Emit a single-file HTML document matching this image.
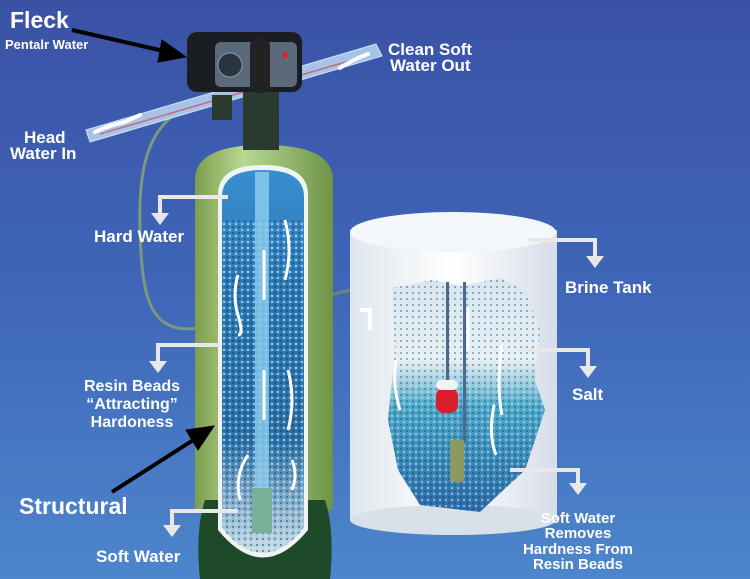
<!DOCTYPE html>
<html><head><style>
body{margin:0;width:750px;height:579px;overflow:hidden;font-family:"Liberation Sans",sans-serif}
</style></head><body>
<svg width="750" height="579" viewBox="0 0 750 579" xmlns="http://www.w3.org/2000/svg" style="display:block">
<defs>
<linearGradient id="bg" x1="0" y1="0" x2="0" y2="1"><stop offset="0" stop-color="#3a52a6"/><stop offset="0.5" stop-color="#3f66b8"/><stop offset="1" stop-color="#4d86cc"/></linearGradient>
<linearGradient id="tank" x1="0" x2="1"><stop offset="0" stop-color="#7c9e4e"/><stop offset="0.35" stop-color="#b8d890"/><stop offset="1" stop-color="#6f9446"/></linearGradient>
<linearGradient id="inner" x1="0" y1="0" x2="0" y2="1"><stop offset="0" stop-color="#3a8ed0"/><stop offset="0.3" stop-color="#2a78b4"/><stop offset="0.7" stop-color="#2a6fa6"/><stop offset="1" stop-color="#c8dde6"/></linearGradient>
<linearGradient id="brine" x1="0" x2="1"><stop offset="0" stop-color="#dfe6ee"/><stop offset="0.5" stop-color="#ffffff"/><stop offset="1" stop-color="#d6dde8"/></linearGradient>
<linearGradient id="cut" x1="0" y1="0" x2="0" y2="1"><stop offset="0" stop-color="#d8e6f0"/><stop offset="0.35" stop-color="#e8f0f4"/><stop offset="0.55" stop-color="#4aa8c8"/><stop offset="1" stop-color="#2a6aa8"/></linearGradient>
<pattern id="dots" width="6" height="6" patternUnits="userSpaceOnUse"><circle cx="2" cy="2" r="1.2" fill="#d8ecf6" opacity="0.7"/><circle cx="5" cy="5" r="1" fill="#0c3a66" opacity="0.6"/></pattern>
</defs>
<rect width="750" height="579" fill="url(#bg)"/>
<!-- hose -->
<path d="M212 100 C150 110 138 160 140 230 C142 300 150 335 200 328" fill="none" stroke="#7a9a80" stroke-width="3"/>
<path d="M330 295 L378 283 L378 300" fill="none" stroke="#6a8a70" stroke-width="3"/>
<!-- pipe -->
<path d="M86 130 L376 44 L382 56 L90 142 Z" fill="#a6c4e8" stroke="#d0e0f4" stroke-width="1"/>
<path d="M100 134 L366 56" stroke="#c07080" stroke-width="1.5"/>
<!-- brine tank -->
<rect x="350" y="230" width="207" height="290" fill="url(#brine)"/>
<ellipse cx="453" cy="520" rx="103" ry="15" fill="#d8e0ea"/>
<ellipse cx="453" cy="232" rx="103" ry="20" fill="#f4f7fa"/>
<path d="M392 288 L432 280 L462 286 L500 278 L525 290 L540 330 L535 380 L545 410 L525 470 L480 512 L420 505 L398 470 L388 420 L395 350 Z" fill="url(#cut)"/>
<path d="M392 288 L432 280 L462 286 L500 278 L525 290 L540 330 L535 380 L545 410 L525 470 L480 512 L420 505 L398 470 L388 420 L395 350 Z" fill="url(#dots)" opacity="0.8"/>
<rect x="446" y="282" width="3" height="100" fill="#4a6a8a"/><rect x="463" y="282" width="3" height="160" fill="#4a6a8a"/>
<rect x="436" y="388" width="22" height="25" rx="8" fill="#d81f2a"/><rect x="436" y="380" width="22" height="10" rx="5" fill="#f4f4f4"/>
<rect x="450" y="440" width="14" height="42" fill="#8a9a60"/>
<path d="M360 310 L370 310 L370 330" fill="none" stroke="#fff" stroke-width="4"/>
<!-- main tank -->
<path d="M195 180 Q195 145 264 145 Q333 145 333 180 L333 510 L195 510 Z" fill="url(#tank)"/>
<path d="M205 500 L325 500 Q335 530 330 579 L200 579 Q195 530 205 500 Z" fill="#1e4a2a"/>
<path d="M218 195 Q218 165 263 165 Q308 165 308 195 L308 530 Q263 585 218 530 Z" fill="#eef4f4"/>
<path d="M222 197 Q222 170 263 170 Q304 170 304 197 L304 528 Q263 578 222 528 Z" fill="url(#inner)"/>
<path d="M222 220 L304 220 L304 528 Q263 578 222 528 Z" fill="url(#dots)"/>
<rect x="255" y="172" width="14" height="320" fill="#8ed0f0" opacity="0.8"/>
<rect x="252" y="488" width="20" height="45" fill="#7ab09a"/>
<!-- head -->
<rect x="243" y="85" width="36" height="65" fill="#2a3a2e"/>
<rect x="212" y="95" width="20" height="25" fill="#2a3a2e"/>
<rect x="187" y="32" width="115" height="60" rx="10" fill="#1a1e22"/>
<rect x="215" y="42" width="82" height="45" rx="6" fill="#5a6a7a"/>
<circle cx="230" cy="65" r="12" fill="#2a3440" stroke="#8a9aaa"/>
<rect x="250" y="38" width="20" height="55" rx="8" fill="#222"/>
<circle cx="285" cy="55" r="3" fill="#e02020"/>
<!-- white flow arrows -->
<g fill="none" stroke="#fff" stroke-width="4" stroke-linecap="round">
<path d="M95 132 Q110 125 125 122 L140 115"/><path d="M340 68 Q352 60 368 54"/>
</g>
<g fill="none" stroke="#fff" stroke-width="3">
<path d="M238 275 q-6 20 0 40 t0 20"/><path d="M285 220 q8 30 0 60"/><path d="M264 300 v-50"/><path d="M264 420 v-50"/><path d="M288 370 q8 30 0 60"/><path d="M240 500 q-6 -25 8 -45"/><path d="M292 490 q6 -15 0 -30"/><path d="M396 360 q-4 25 4 50"/><path d="M502 345 q-6 40 0 70"/><path d="M494 405 q-6 30 2 50"/><path d="M468 350 v-42"/>
</g>
<!-- callout brackets -->
<g fill="none" stroke="#e8e8e8" stroke-width="4">
<path d="M228 197 L160 197 L160 215"/>
<path d="M220 345 L158 345 L158 363"/>
<path d="M238 511 L172 511 L172 527"/>
<path d="M528 240 L595 240 L595 258"/>
<path d="M523 350 L588 350 L588 368"/>
<path d="M510 470 L578 470 L578 485"/>
</g>
<g fill="#e8e8e8">
<path d="M151 213 L169 213 L160 225 Z"/><path d="M149 361 L167 361 L158 373 Z"/><path d="M163 525 L181 525 L172 537 Z"/>
<path d="M586 256 L604 256 L595 268 Z"/><path d="M579 366 L597 366 L588 378 Z"/><path d="M569 483 L587 483 L578 495 Z"/>
</g>
<!-- black arrows -->
<g stroke="#000" stroke-width="4" fill="#000">
<path d="M72 30 L168 52"/><path d="M186 57 L162 40 L158 62 Z" stroke-width="1"/>
<path d="M112 492 L198 437"/><path d="M214 426 L186 430 L198 450 Z" stroke-width="1"/>
</g>
<!-- text -->
<g fill="#fff" font-weight="bold" font-family="Liberation Sans, sans-serif">
<text x="10" y="28" font-size="23">Fleck</text>
<text x="5" y="49" font-size="13">Pentalr Water</text>
<text x="388" y="55" font-size="17">Clean Soft</text>
<text x="390" y="71" font-size="17">Water Out</text>
<text x="24" y="143" font-size="17">Head</text>
<text x="10" y="159" font-size="17">Water In</text>
<text x="94" y="242" font-size="17">Hard Water</text>
<text x="565" y="293" font-size="17">Brine Tank</text>
<g font-size="16" text-anchor="middle"><text x="132" y="391">Resin Beads</text><text x="132" y="409">“Attracting”</text><text x="132" y="427">Hardoness</text></g>
<text x="572" y="400" font-size="17">Salt</text>
<text x="19" y="514" font-size="23">Structural</text>
<text x="96" y="562" font-size="17">Soft Water</text>
<g font-size="15" text-anchor="middle"><text x="578" y="523">Soft Water</text><text x="578" y="538">Removes</text><text x="578" y="554">Hardness From</text><text x="578" y="569">Resin Beads</text></g>
</g>
</svg>
</body></html>
